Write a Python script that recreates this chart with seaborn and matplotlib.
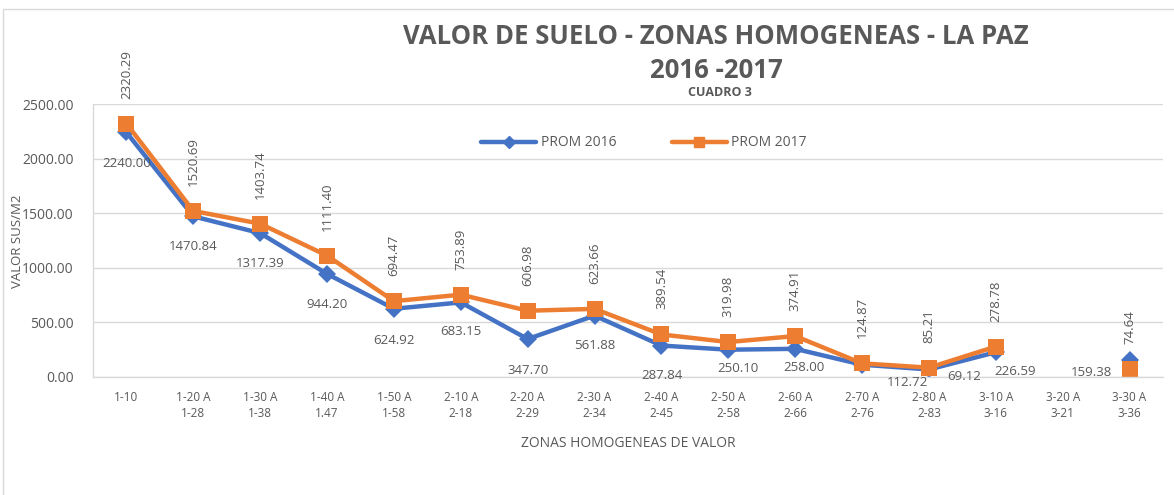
import numpy as np
import pandas as pd
import matplotlib
matplotlib.use("Agg")
import matplotlib.pyplot as plt
import seaborn as sns
from matplotlib.patches import Rectangle
from matplotlib.lines import Line2D

zonas = ["1-10", "1-20 A\n1-28", "1-30 A\n1-38", "1-40 A\n1.47", "1-50 A\n1-58",
         "2-10 A\n2-18", "2-20 A\n2-29", "2-30 A\n2-34", "2-40 A\n2-45", "2-50 A\n2-58",
         "2-60 A\n2-66", "2-70 A\n2-76", "2-80 A\n2-83", "3-10 A\n3-16", "3-20 A\n3-21",
         "3-30 A\n3-36"]
prom_2016 = [2240.00, 1470.84, 1317.39, 944.20, 624.92, 683.15, 347.70, 561.88,
             287.84, 250.10, 258.00, 112.72, 69.12, 226.59, np.nan, 159.38]
prom_2017 = [2320.29, 1520.69, 1403.74, 1111.40, 694.47, 753.89, 606.98, 623.66,
             389.54, 319.98, 374.91, 124.87, 85.21, 278.78, np.nan, 74.64]
series_names = ["PROM 2016", "PROM 2017"]

# label nudges for the 2016 labels (pixels, Excel moved a few of them)
lbl16_dx = [0, 0, 0, 0, 0, 0, 0, 0, 0, 10, 9, 45, 35, 19, 0, -38]
lbl16_dy = [-31, -30, -30, -31, -32, -29, -31, -30, -30, -19, -19, -18, -7, -19, 0, -13]

GRAY = "#595959"
BLUE = "#4472C4"
ORANGE = "#ED7D31"

rows = []
for name, vals in zip(series_names, [prom_2016, prom_2017]):
    seg = 0
    for i, v in enumerate(vals):
        if np.isnan(v):
            seg += 1
            continue
        rows.append({"x": i, "valor": v, "serie": name, "seg": seg})
df = pd.DataFrame(rows)

sns.set_theme(style="white")
plt.rcParams["font.family"] = ["Open Sans", "DejaVu Sans"]

fig = plt.figure(figsize=(11.74, 4.95), dpi=100)
ax = fig.add_axes([93 / 1174, 1 - 377 / 495, 1070 / 1174, 273 / 495])

sns.lineplot(data=df, x="x", y="valor", hue="serie", style="serie", units="seg",
             estimator=None, palette={"PROM 2016": BLUE, "PROM 2017": ORANGE},
             markers={"PROM 2016": "D", "PROM 2017": "s"}, dashes=False,
             markersize=11, markeredgewidth=0, linewidth=3.2, legend=False, ax=ax)
for ln in ax.lines:
    ln.set_clip_on(False)
    if matplotlib.colors.to_hex(ln.get_color()) == BLUE.lower():
        ln.set_markersize(9)
    else:
        ln.set_markersize(12)

ax.set_xlim(-0.5, len(zonas) - 0.5)
ax.set_ylim(0, 2500)
ax.set_yticks([0, 500, 1000, 1500, 2000, 2500])
ax.set_yticklabels([f"{t:.2f}" for t in [0, 500, 1000, 1500, 2000, 2500]],
                   fontsize=10, color=GRAY)
ax.set_xticks(range(len(zonas)))
ax.set_xticklabels(zonas, fontsize=8.5, color=GRAY, linespacing=1.35)
ax.tick_params(axis="both", length=0)
ax.tick_params(axis="x", pad=10)
ax.tick_params(axis="y", pad=14)
ax.grid(axis="y", color="#D9D9D9", linewidth=1)
for s in ["top", "right"]:
    ax.spines[s].set_visible(False)
for s in ["left", "bottom"]:
    ax.spines[s].set_color("#D9D9D9")
    ax.spines[s].set_linewidth(1)

ax.set_xlabel("ZONAS HOMOGENEAS DE VALOR", fontsize=10, color=GRAY, labelpad=11)
ax.set_ylabel("")
fig.text(18 / 1174, 1 - 241 / 495, "VALOR SUS/M2", rotation=90, fontsize=9.5,
         color=GRAY, ha="center", va="center")

# data labels
for i, v in enumerate(prom_2016):
    if np.isnan(v):
        continue
    ax.annotate(f"{v:.2f}", (i, v), xytext=(lbl16_dx[i] * 0.72, lbl16_dy[i] * 0.72),
                textcoords="offset points", ha="center", va="center",
                fontsize=9.5, color=GRAY, annotation_clip=False)
for i, v in enumerate(prom_2017):
    if np.isnan(v):
        continue
    ax.annotate(f"{v:.2f}", (i, v), xytext=(0, 18), textcoords="offset points",
                ha="center", va="bottom", rotation=90, fontsize=9.5, color=GRAY,
                annotation_clip=False)

# legend
handles = [Line2D([], [], color=BLUE, lw=3.2, marker="D", markersize=6),
           Line2D([], [], color=ORANGE, lw=3.2, marker="s", markersize=7)]
fig.legend(handles, series_names, loc="center", bbox_to_anchor=(644 / 1174, 1 - 143 / 495),
           ncol=2, frameon=False, handlelength=4, columnspacing=4, handletextpad=0.3,
           prop={"size": 10}, labelcolor=GRAY)

# titles
fig.text(716 / 1174, 1 - 37 / 495, "VALOR DE SUELO - ZONAS HOMOGENEAS - LA PAZ",
         fontsize=18.5, fontweight="bold", color=GRAY, ha="center", va="center")
fig.text(716 / 1174, 1 - 70 / 495, "2016 -2017", fontsize=18.5, fontweight="bold",
         color=GRAY, ha="center", va="center")
fig.text(720 / 1174, 1 - 93 / 495, "CUADRO 3", fontsize=9, fontweight="bold",
         color=GRAY, ha="center", va="center")

# chart border
fig.patches.append(Rectangle((3 / 1174, -0.1), 1.2, 1 - 9 / 495 + 0.1,
                             transform=fig.transFigure, fill=False,
                             edgecolor="#D9D9D9", linewidth=1))

fig.savefig("out.png", dpi=100)
